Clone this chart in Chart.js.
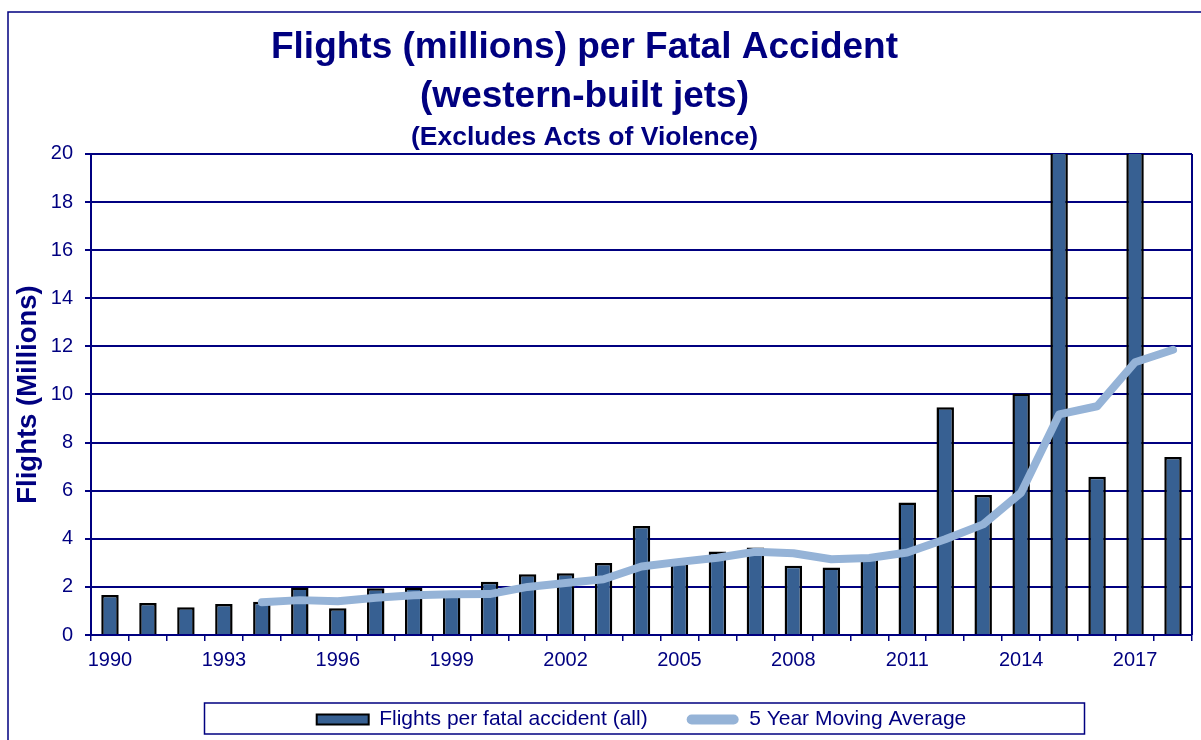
<!DOCTYPE html>
<html>
<head>
<meta charset="utf-8">
<title>Flights per Fatal Accident</title>
<script src="https://cdn.jsdelivr.net/npm/chart.js@4.4.1/dist/chart.umd.min.js"></script>
<style>
  html, body { margin: 0; padding: 0; background: #fff; }
  canvas { display: block; }
</style>
</head>
<body>
<canvas id="accidentChart" width="1201" height="740"></canvas>
<script>
// Data
const years = ['1990', '1991', '1992', '1993', '1994', '1995', '1996', '1997', '1998', '1999',
               '2000', '2001', '2002', '2003', '2004', '2005', '2006', '2007', '2008', '2009',
               '2010', '2011', '2012', '2013', '2014', '2015', '2016', '2017', '2018'];
const labeledYears = ['1990', '1993', '1996', '1999', '2002', '2005', '2008', '2011', '2014', '2017'];
const flightsPerAccident = [1.66, 1.33, 1.15, 1.29, 1.38, 1.98, 1.11, 1.94, 1.98, 1.70,
                            2.21, 2.53, 2.57, 2.99, 4.53, 3.00, 3.47, 3.64, 2.88, 2.81,
                            3.25, 5.51, 9.47, 5.82, 10.04, 30.0, 6.58, 25.0, 7.40];
const movingAverage = [null, null, null, null, 1.36, 1.45, 1.40, 1.55, 1.65, 1.69,
                       1.70, 2.00, 2.16, 2.32, 2.85, 3.04, 3.21, 3.46, 3.40, 3.15,
                       3.20, 3.43, 3.98, 4.60, 5.92, 9.17, 9.51, 11.34, 11.86];
const yTicks = [0, 2, 4, 6, 8, 10, 12, 14, 16, 18, 20];

const NAVY = '#000080';
const BAR_COLOR = '#376092';
const AVG_COLOR = '#95b3d7';

Chart.defaults.font.family = "'Liberation Sans', Arial, sans-serif";
Chart.defaults.color = NAVY;

// Outer frame, right edge of plot and box around the legend
const framePlugin = {
    id: 'frames',
    beforeDraw(chart) {
        const ctx = chart.ctx;
        ctx.save();
        ctx.fillStyle = '#fff';
        ctx.fillRect(0, 0, chart.width, chart.height);
        ctx.strokeStyle = NAVY;
        ctx.lineWidth = 1.5;
        ctx.strokeRect(8, 12, chart.width + 20, chart.height + 20);
        ctx.restore();
    },
    afterDraw(chart) {
        const ctx = chart.ctx;
        const area = chart.chartArea;
        ctx.save();
        ctx.strokeStyle = NAVY;
        ctx.lineWidth = 2;
        ctx.beginPath();
        ctx.moveTo(area.right, area.top);
        ctx.lineTo(area.right, area.bottom);
        ctx.stroke();

        const boxes = chart.legend.legendHitBoxes;
        if (boxes && boxes.length) {
            const first = boxes[0];
            const last = boxes[boxes.length - 1];
            const mid = (first.left + last.left + last.width) / 2 + 3;
            const y0 = first.top - 6;
            const y1 = first.top + first.height + 4;
            ctx.lineWidth = 1.5;
            ctx.strokeRect(mid - 440, y0, 880, y1 - y0);
        }
        ctx.restore();
    }
};

const ctx = document.getElementById('accidentChart').getContext('2d');

const accidentChart = new Chart(ctx, {
    type: 'bar',
    data: {
        labels: years,
        datasets: [{
            type: 'bar',
            label: 'Flights per fatal accident (all)',
            data: flightsPerAccident,
            backgroundColor: BAR_COLOR,
            borderColor: '#000',
            borderWidth: 2.5,
            barPercentage: 0.46,
            categoryPercentage: 1,
            order: 1
        }, {
            type: 'line',
            label: '5 Year Moving Average',
            data: movingAverage,
            borderColor: AVG_COLOR,
            backgroundColor: AVG_COLOR,
            borderWidth: 8,
            borderCapStyle: 'round',
            borderJoinStyle: 'round',
            pointRadius: 0,
            tension: 0,
            order: 0
        }]
    },
    options: {
        responsive: false,
        animation: false,
        layout: {
            // negative left padding moves the centred title over to where it sits in the original
            padding: { top: 12, left: -23, right: 9, bottom: 0 }
        },
        plugins: {
            title: {
                display: true,
                text: ['Flights (millions) per Fatal Accident', '(western-built jets)'],
                color: NAVY,
                font: { size: 37, weight: 'bold', lineHeight: 1.324 },
                padding: { top: 11.7, bottom: 0 }
            },
            subtitle: {
                display: true,
                text: '(Excludes Acts of Violence)',
                color: NAVY,
                font: { size: 26.5, weight: 'bold', lineHeight: 1.2 },
                padding: { top: 0.2, bottom: 0.3 }
            },
            legend: {
                position: 'bottom',
                fullSize: false,
                labels: {
                    color: NAVY,
                    font: { size: 21 },
                    boxWidth: 52,
                    boxHeight: 10,
                    padding: 39,
                    generateLabels(chart) {
                        const items = Chart.defaults.plugins.legend.labels.generateLabels(chart);
                        items.forEach(item => {
                            if (chart.data.datasets[item.datasetIndex].type === 'line') {
                                item.fillStyle = AVG_COLOR;
                                item.lineWidth = 0;
                                item.borderRadius = 5;
                            } else {
                                item.strokeStyle = '#000';
                                item.lineWidth = 2;
                                item.borderRadius = 0;
                            }
                        });
                        return items.sort((a, b) => a.datasetIndex - b.datasetIndex);
                    }
                }
            },
            tooltip: { enabled: false }
        },
        scales: {
            x: {
                grid: {
                    offset: true,
                    drawOnChartArea: false,
                    color: NAVY,
                    lineWidth: 1.5,
                    tickLength: 6
                },
                border: { color: NAVY, width: 2 },
                ticks: {
                    autoSkip: false,
                    maxRotation: 0,
                    minRotation: 0,
                    padding: 7,
                    color: NAVY,
                    font: { size: 20 },
                    callback(value, index) {
                        const year = years[index];
                        return labeledYears.includes(year) ? year : '';
                    }
                },
                afterFit(scale) {
                    scale.height = 35;
                }
            },
            y: {
                min: yTicks[0],
                max: yTicks[yTicks.length - 1],
                grid: {
                    color: NAVY,
                    lineWidth: 2,
                    tickLength: 6
                },
                border: { color: NAVY, width: 2 },
                ticks: {
                    stepSize: 2,
                    padding: 12,
                    color: NAVY,
                    font: { size: 20 }
                },
                title: {
                    display: true,
                    text: 'Flights (Millions)',
                    color: NAVY,
                    font: { size: 27.5, weight: 'bold' },
                    padding: { top: 35.1, bottom: 0 }
                },
                afterFit(scale) {
                    scale.width = 114;
                }
            }
        }
    },
    plugins: [framePlugin]
});
</script>
</body>
</html>
